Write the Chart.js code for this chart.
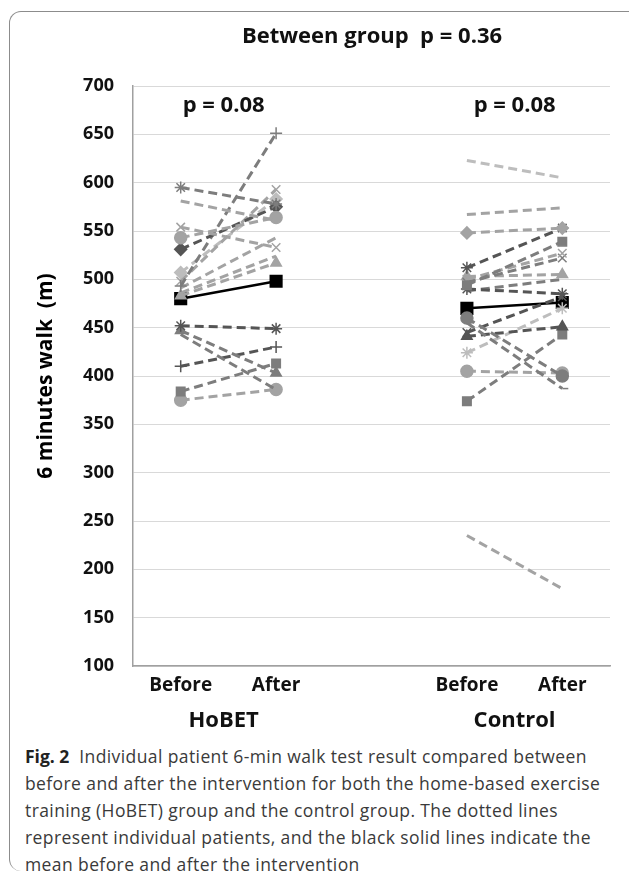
<!DOCTYPE html>
<html>
<head>
<meta charset="utf-8">
<script src="https://cdn.jsdelivr.net/npm/chart.js@4.4.1/dist/chart.umd.min.js"></script>
<style>
  html,body{margin:0;padding:0;background:#fff;}
  body{width:629px;height:875px;overflow:hidden;position:relative;}
  #frame{position:absolute;left:9px;top:11px;width:640px;height:860px;
    border-left:1.5px solid #8c8c8c;border-top:1.5px solid #8c8c8c;border-right:1.5px solid #8c8c8c;
    border-radius:12px 12px 0 12px;box-sizing:border-box;}
  #wrap{position:absolute;left:0;top:0;width:629px;height:740px;}
  #cap{position:absolute;left:25px;top:743px;width:610px;font-family:'Open Sans',sans-serif;
    font-size:17.5px;line-height:27px;color:#3a3a3a;white-space:nowrap;letter-spacing:0.4px;}
  #cap b{color:#222;font-weight:700;letter-spacing:0;}
</style>
</head>
<body>
<div id="frame"></div>
<div id="wrap"><canvas id="c"></canvas></div>
<div id="cap"><b>Fig. 2</b>&nbsp; Individual patient 6-min walk test result compared between<br>before and after the intervention for both the home-based exercise<br>training (HoBET) group and the control group. The dotted lines<br>represent individual patients, and the black solid lines indicate the<br>mean before and after the intervention</div>
<script>
// ---- data ----
const tickPositions = [1, 2, 4, 5];
const tickLabels = ['Before', 'After', 'Before', 'After'];
const groupLabels = ['HoBET', 'Control'];
const groupPValues = ['p = 0.08', 'p = 0.08'];
const titleText = 'Between group  p = 0.36';
const yTitle = '6 minutes walk  (m)';

const hobetBefore = [595, 581, 554, 543, 531, 493, 498, 507, 491, 486, 483, 452, 447, 443, 410, 384, 375];
const hobetAfter  = [578, 561, 533, 564, 575, 651, 593, 583, 543, 524, 517, 449, 403, 386, 430, 413, 386];
const controlBefore = [623, 567, 548, 512, 494, 500, 497, 503, 490, 488, 455, 460, 445, 441, 424, 405, 374, 235];
const controlAfter  = [605, 574, 553, 553, 539, 527, 522, 505, 485, 500, 387, 400, 482, 451, 470, 403, 443, 180];
const meanBefore = [480, 470];
const meanAfter  = [498, 476];

// ---- styles (per patient line) ----
const hobetShade  = ['mid','light','light','light','dark','mid','light','lighter','light','light','light','dark','mid','mid','dark','mid','light'];
const hobetMarker = ['star',false,'crossRot','circle','rectRot','cross','crossRot','rectRot',false,false,'triangle','star','triangle',false,'cross','rect','circle'];
const controlShade  = ['lighter','light','light','dark','mid','light','mid','light','dark','mid','mid','mid','dark','dark','lighter','light','mid','light'];
const controlMarker = [false,false,'rectRot','star','rect','crossRot','crossRot','triangle','star',false,'dash','circle','crossRot','triangle','star','circle','rect',false];
const shades = {dark:'#555555', mid:'#7d7d7d', light:'#a3a3a3', lighter:'#bdbdbd'};

const datasets = [];
function addGroup(before, after, xb, xa, shade, marker){
  before.forEach((b, i) => {
    const col = shades[shade[i]];
    const m = marker[i];
    datasets.push({
      data: [{x: xb, y: b}, {x: xa, y: after[i]}],
      borderColor: col, backgroundColor: col,
      pointBackgroundColor: col, pointBorderColor: col,
      borderWidth: 3, borderDash: [9, 5],
      pointStyle: m || 'circle', pointRadius: m ? 6 : 0, pointBorderWidth: 1.5,
      pointHoverRadius: 0
    });
  });
}
addGroup(hobetBefore, hobetAfter, tickPositions[0], tickPositions[1], hobetShade, hobetMarker);
addGroup(controlBefore, controlAfter, tickPositions[2], tickPositions[3], controlShade, controlMarker);
[0, 1].forEach(g => {
  datasets.push({
    data: [{x: tickPositions[g*2], y: meanBefore[g]}, {x: tickPositions[g*2+1], y: meanAfter[g]}],
    borderColor: '#000', backgroundColor: '#000', pointBackgroundColor: '#000', pointBorderColor: '#000',
    borderWidth: 2.5, pointStyle: 'rect', pointRadius: 7.5, pointHoverRadius: 0
  });
});

const labelFont = "'Open Sans', 'Lato', sans-serif";

const textPlugin = {
  id: 'texts',
  afterDraw(chart) {
    const {ctx, scales: {x}} = chart;
    ctx.save();
    ctx.fillStyle = '#111';
    ctx.textAlign = 'center';
    ctx.textBaseline = 'middle';
    ctx.font = "bold 22px " + labelFont;
    ctx.fillText(titleText, 372, 37);
    const centers = [1.45, 4.5];
    ctx.font = "bold 22px " + labelFont;
    centers.forEach((c, i) => ctx.fillText(groupPValues[i], x.getPixelForValue(c), 106));
    ctx.font = "bold 22px " + labelFont;
    centers.forEach((c, i) => ctx.fillText(groupLabels[i], x.getPixelForValue(c), 721));
    ctx.restore();
  }
};

new Chart(document.getElementById('c'), {
  type: 'line',
  data: { datasets },
  plugins: [textPlugin],
  options: {
    responsive: true, maintainAspectRatio: false, animation: false,
    layout: { padding: { left: 0, right: 19, top: 86, bottom: 0 } },
    plugins: { legend: { display: false }, tooltip: { enabled: false }, title: { display: false } },
    elements: { line: { tension: 0 } },
    scales: {
      x: {
        type: 'linear', min: 0.5, max: 5.5,
        afterBuildTicks: (axis) => { axis.ticks = tickPositions.map(v => ({ value: v })); },
        afterFit: (s) => { s.height = 74; },
        grid: { display: false, drawTicks: false },
        border: { display: true, color: '#a0a0a0', width: 1.5 },
        ticks: {
          autoSkip: false, maxRotation: 0, padding: 8, color: '#111',
          font: { family: labelFont, size: 19, weight: 'bold' },
          callback: (v) => { const i = tickPositions.indexOf(v); return i >= 0 ? tickLabels[i] : ''; }
        }
      },
      y: {
        min: 100, max: 700,
        afterFit: (s) => { s.width = 133; },
        grid: { color: '#d9d9d9', lineWidth: 1, drawTicks: false },
        border: { display: true, color: '#a0a0a0', width: 1.5 },
        ticks: { stepSize: 50, padding: 19, color: '#111', font: { family: labelFont, size: 18, weight: 'bold' } },
        title: { display: true, text: yTitle, color: '#000', padding: { top: 33, bottom: 0 },
          font: { family: labelFont, size: 21, weight: 'bold' } }
      }
    }
  }
});
</script>
</body>
</html>
